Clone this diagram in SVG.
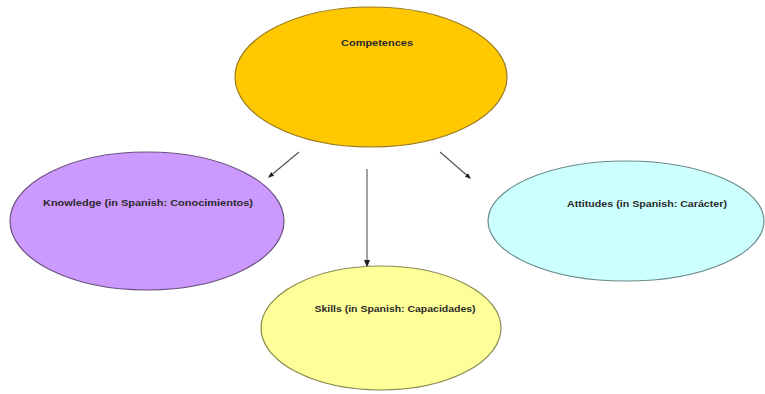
<svg xmlns="http://www.w3.org/2000/svg" width="765" height="394" viewBox="0 0 765 394">
<style>
.node{stroke-width:1.2}
.lbl{font-family:"Liberation Sans",Arial,sans-serif;font-size:9.5px;font-weight:bold;fill:#2a2a2a;text-anchor:middle}
.conn{stroke:#555;stroke-width:1.2;fill:none}
</style>
<defs>
<marker id="ah" viewBox="0 0 10 10" refX="8" refY="5" markerWidth="5" markerHeight="5" orient="auto">
<path d="M0,1 L10,5 L0,9 z" fill="#222"/>
</marker>
</defs>
<rect width="765" height="394" fill="#fff"/>
<g id="connectors">
<line class="conn" x1="299" y1="152" x2="269" y2="177" marker-end="url(#ah)"/>
<line class="conn" x1="440" y1="152" x2="470" y2="178" marker-end="url(#ah)"/>
<line class="conn" x1="367" y1="169" x2="367" y2="266" stroke="#999" style="stroke:#8a8a8a;stroke-width:1.6" marker-end="url(#ah)"/>
</g>
<g id="competences">
<ellipse class="node" cx="371" cy="77" rx="136" ry="70" fill="#FFC800" stroke="#9a7a20"/>
<text class="lbl" x="377" y="46" textLength="72" lengthAdjust="spacingAndGlyphs">Competences</text>
</g>
<g id="knowledge">
<ellipse class="node" cx="147" cy="221" rx="137" ry="69" fill="#CC99FF" stroke="#6a5080"/>
<text class="lbl" x="148" y="206" textLength="210" lengthAdjust="spacingAndGlyphs">Knowledge (in Spanish: Conocimientos)</text>
</g>
<g id="attitudes">
<ellipse class="node" cx="626" cy="221" rx="138" ry="60" fill="#CCFFFF" stroke="#6a8a8a"/>
<text class="lbl" x="647" y="207" textLength="160" lengthAdjust="spacingAndGlyphs">Attitudes (in Spanish: Carácter)</text>
</g>
<g id="skills">
<ellipse class="node" cx="381" cy="328" rx="120" ry="62" fill="#FFFF99" stroke="#8a8a50"/>
<text class="lbl" x="395" y="312" textLength="161" lengthAdjust="spacingAndGlyphs">Skills (in Spanish: Capacidades)</text>
</g>
</svg>
